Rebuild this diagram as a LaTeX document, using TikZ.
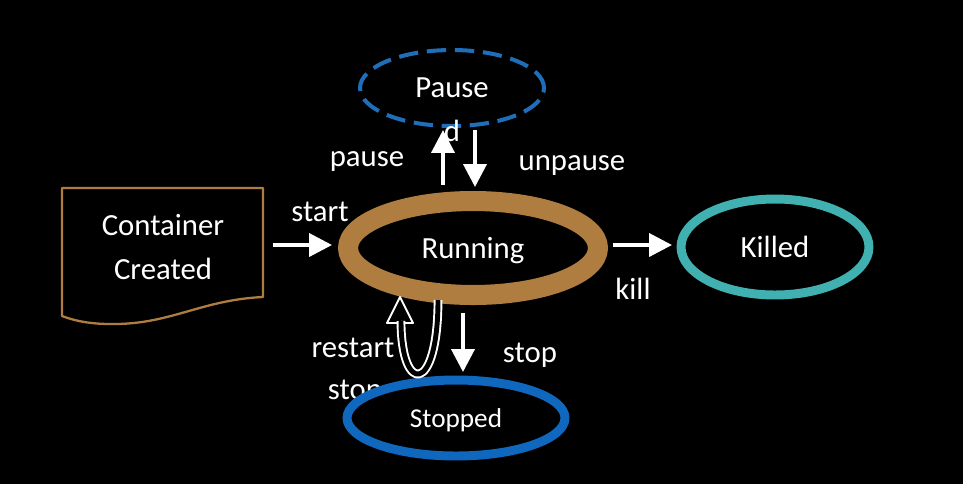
\documentclass[tikz,border=0pt]{standalone}
\usepackage{fontspec}
\setmainfont{Carlito}
\usetikzlibrary{arrows.meta,calc,shapes.geometric}
\definecolor{runbrown}{RGB}{176,125,64}
\definecolor{pauseblue}{RGB}{30,110,185}
\definecolor{stopblue}{RGB}{16,104,190}
\definecolor{killteal}{RGB}{64,176,176}
\tikzset{state/.style={ellipse,inner sep=0pt,outer sep=0pt,text depth=0pt,text=white,fill=black},
  arr/.style={white,line width=2.2pt,-{Triangle[length=13pt 0,width=13pt 0]}},
  lbl/.style={text=white,inner sep=0pt,text depth=0pt}}

\begin{document}
\begin{tikzpicture}[x=0.02cm,y=-0.02cm,line join=round,font=\fontsize{17.5}{21}\selectfont]
\fill[black] (0,0) rectangle (963,484);
% --- document box
\draw[runbrown,line width=1.3pt] (62,188) -- (263,188) -- (263,297) .. controls (200,300) and (170,325) .. (110,324) .. controls (85,324) and (70,319) .. (62,316) -- cycle;
\node[text=white,minimum width=4cm,align=center] (created) at (163,247) {Container\\[4pt]Created};
% --- states
\node[lbl] (lstophid) at (355,390) {stop};
\node[state,draw=runbrown,line width=11.4pt,minimum width=5cm,minimum height=1.88cm] (running) at (473,248) {Running};
\node[state,draw=pauseblue,line width=2.3pt,dash pattern=on 11pt off 5pt,minimum width=3.68cm,minimum height=1.52cm] (pause) at (452,88) {Pause};
\node[state,draw=killteal,line width=5.1pt,minimum width=3.76cm,minimum height=1.92cm] (killed) at (775,247) {Killed};
\node[state,draw=stopblue,line width=5.1pt,minimum width=4.36cm,minimum height=1.52cm,font=\fontsize{15.5}{18}\selectfont] (stopped) at (456,418) {Stopped};
% --- transitions
\draw[arr] ($(created.east)+(10,-2)$) -- ($(running.west)+(-16,-3)$);
\draw[arr] ($(running.east)+(15,-3)$) -- ($(killed.west)+(-9,-2)$);
\draw[arr] ($(running.north)+(-30,-16)$) -- ($(pause.south)+(-9,4)$);
\draw[arr] ($(pause.south)+(23,4)$) -- ($(running.north)+(2,-14)$);
\draw[arr] ($(running.south)+(-10,18)$) -- ($(stopped.north)+(7,-8)$);
% restart loop, hollow arrow
\draw[white,line width=1.1pt,fill=black] ($(running.south)+(-86,28)$) -- ($(running.south)+(-73,2)$) -- ($(running.south)+(-60,28)$) -- cycle;
\draw[white,line width=1.1pt,double=black,double distance=2.8pt] ($(running.south)+(-35,5)$) .. controls ($(running.south)+(-35,100)$) and ($(running.south)+(-72,100)$) .. ($(running.south)+(-72,26)$);
% --- labels
\node[lbl] (lstart) at (320,212) {start};
\node[lbl] (lkill) at (633,289) {kill};
\node[lbl] (lpause) at (367,159) {pause};
\node[lbl] (lunpause) at (572,163) {unpause};
\node[lbl] (ld) at (452,131) {d};
\node[lbl] (lstop) at (530,353) {stop};
\node[lbl] (lrestart) at (353,348) {restart};
\end{tikzpicture}
\end{document}
